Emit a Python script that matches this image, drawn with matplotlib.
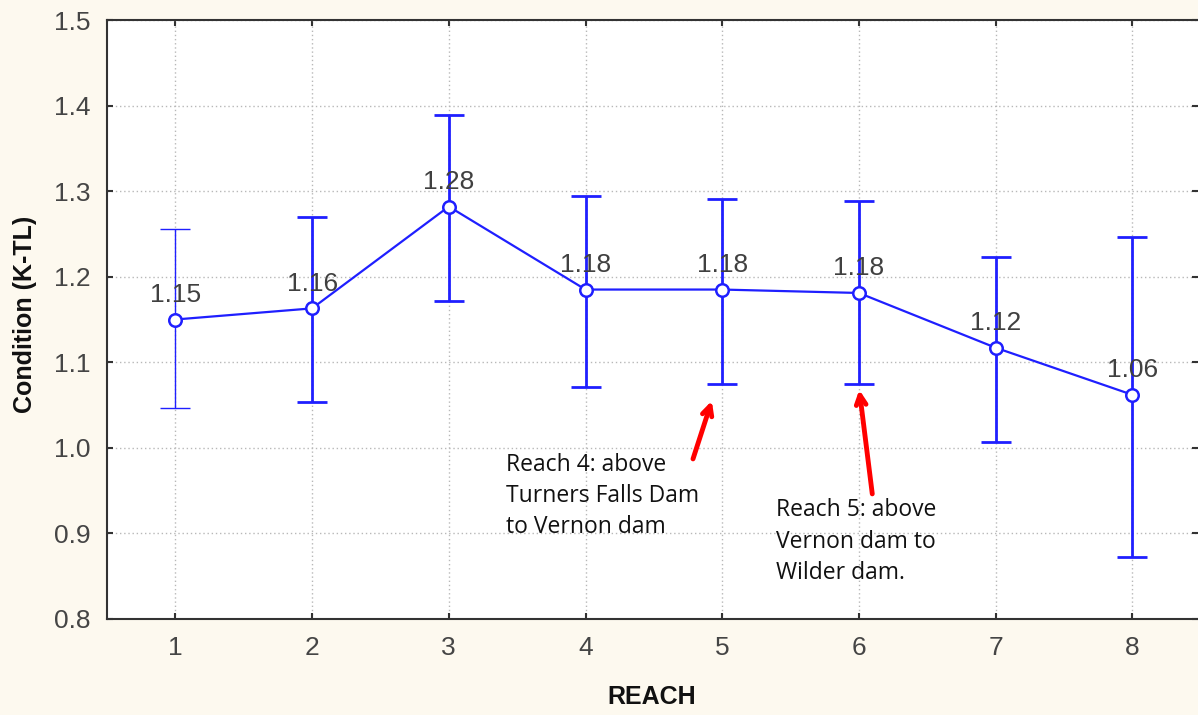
import numpy as np
import matplotlib.pyplot as plt

# Data
reach = np.array([1, 2, 3, 4, 5, 6, 7, 8])
condition = np.array([1.150, 1.163, 1.282, 1.185, 1.185, 1.181, 1.117, 1.062])
upper = np.array([1.256, 1.270, 1.389, 1.294, 1.291, 1.289, 1.223, 1.246])
lower = np.array([1.046, 1.054, 1.172, 1.071, 1.075, 1.075, 1.007, 0.873])
labels = ["1.15", "1.16", "1.28", "1.18", "1.18", "1.18", "1.12", "1.06"]
yticks = [0.8, 0.9, 1.0, 1.1, 1.2, 1.3, 1.4, 1.5]

bg = "#FDF9EF"
blue = "#1F1FFF"

plt.rcParams["font.family"] = ["Liberation Sans", "DejaVu Sans"]

fig = plt.figure(figsize=(11.98, 7.15), dpi=100, facecolor=bg)
ax = fig.add_axes([107 / 1198, 1 - 619 / 715, 1 - 107 / 1198, (619 - 20) / 715])
ax.set_facecolor("white")

ax.set_xlim(0.5, 8.48)
ax.set_ylim(0.8, 1.5)
ax.set_xticks(reach)
ax.set_yticks(yticks)
ax.set_yticklabels([f"{v:.1f}" for v in yticks])
ax.grid(True, linestyle=(0, (1, 2)), color="#B8B8B8", linewidth=1)
ax.set_axisbelow(True)

for s in ["left", "bottom", "top"]:
    ax.spines[s].set_color("#333333")
    ax.spines[s].set_linewidth(1.5)
ax.spines["right"].set_visible(False)
ax.tick_params(direction="in", length=4, width=1.5, colors="#333333",
               top=True, right=True, labelsize=19, labelcolor="#454545", pad=12)

# error bars (first one drawn thinner, as in the reference)
err = np.vstack([condition - lower, upper - condition])
for i in range(len(reach)):
    lw = 1.0 if i == 0 else 2.0
    ax.errorbar(reach[i], condition[i], yerr=err[:, i:i + 1], fmt="none",
                ecolor=blue, elinewidth=lw, capsize=11, capthick=lw, zorder=3)

ax.plot(reach, condition, color=blue, linewidth=1.6, marker="o", markersize=9,
        markerfacecolor="white", markeredgecolor=blue, markeredgewidth=1.8, zorder=4)

for x, y, t in zip(reach, condition, labels):
    ax.annotate(t, (x, y), xytext=(0, 9), textcoords="offset points",
                ha="center", va="bottom", fontsize=19, color="#404040", zorder=5)

# annotations
note_font = ["Open Sans", "DejaVu Sans"]
ax.text(3.42, 0.994, "Reach 4: above\nTurners Falls Dam\nto Vernon dam",
        fontsize=16.5, family=note_font, va="top", ha="left",
        color="#111111", linespacing=1.4)
ax.text(5.39, 0.941, "Reach 5: above\nVernon dam to\nWilder dam.",
        fontsize=16.5, family=note_font, va="top", ha="left",
        color="#111111", linespacing=1.4)
ax.annotate("", xy=(4.93, 1.058), xytext=(4.78, 0.984),
            arrowprops=dict(arrowstyle="->,head_length=0.7,head_width=0.35",
                            color="red", lw=3.5))
ax.annotate("", xy=(6.0, 1.071), xytext=(6.10, 0.943),
            arrowprops=dict(arrowstyle="->,head_length=0.7,head_width=0.35",
                            color="red", lw=3.5))

fig.text(25 / 1198, 1 - 314 / 715, "Condition (K-TL)", rotation=90, ha="center",
         va="center", fontsize=18, fontweight="bold", color="#111111")
fig.text(652 / 1198, 1 - 697 / 715, "REACH", ha="center", va="center",
         fontsize=18, fontweight="bold", color="#111111")

fig.savefig("out.png", dpi=100, facecolor=bg)
